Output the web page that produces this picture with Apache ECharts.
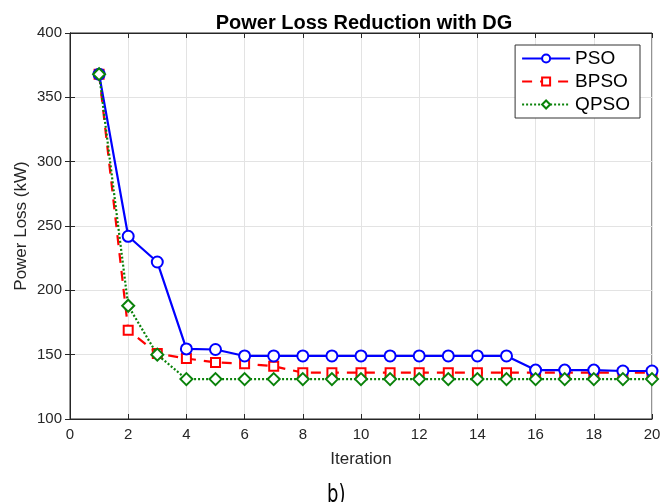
<!DOCTYPE html>
<html>
<head>
<meta charset="utf-8">
<script src="https://cdn.jsdelivr.net/npm/echarts@6/dist/echarts.min.js"></script>
<style>
  html, body { margin: 0; padding: 0; background: #fff; }
  #lossChart { width: 662px; height: 502px; }
</style>
</head>
<body>
<div id="lossChart"></div>
<script>
// iterations 1..20
const iterations = [1, 2, 3, 4, 5, 6, 7, 8, 9, 10, 11, 12, 13, 14, 15, 16, 17, 18, 19, 20];
const psoLoss = [368, 242, 222, 154.5, 154, 149, 149, 149, 149, 149, 149, 149, 149, 149, 149, 138, 138, 138, 137.3, 137.3];
const bpsoLoss = [368, 169, 151, 147, 144, 143, 141, 136, 136, 136, 136, 136, 136, 136, 136, 136, 136, 136, 136, 136];
const qpsoLoss = [368, 188, 150, 131, 131, 131, 131, 131, 131, 131, 131, 131, 131, 131, 131, 131, 131, 131, 131, 131];
const xTicks = [0, 2, 4, 6, 8, 10, 12, 14, 16, 18, 20];
const yTicks = [100, 150, 200, 250, 300, 350, 400];

const pairs = vals => iterations.map((it, i) => [it, vals[i]]);
const font = 'Liberation Sans, Arial, sans-serif';

const chart = echarts.init(document.getElementById('lossChart'));

const baseX = {
  type: 'value',
  min: xTicks[0],
  max: xTicks[xTicks.length - 1],
  interval: 2,
  axisLine: { lineStyle: { color: '#262626', width: 1 } },
  axisTick: { inside: true, length: 5, lineStyle: { color: '#262626' } },
};
const baseY = {
  type: 'value',
  min: yTicks[0],
  max: yTicks[yTicks.length - 1],
  interval: 50,
  axisLine: { lineStyle: { color: '#262626', width: 1 } },
  axisTick: { inside: true, length: 5, lineStyle: { color: '#262626' } },
};

chart.setOption({
  animation: false,
  textStyle: { fontFamily: font },
  title: {
    text: 'Power Loss Reduction with DG',
    left: 359,
    top: 8,
    textAlign: 'center',
    textStyle: { fontSize: 20, fontWeight: 'bold', color: '#000', fontFamily: font },
  },
  grid: {
    left: 70, right: 10, top: 33, bottom: 83,
    outerBoundsMode: 'none',
    show: true, borderColor: '#262626', borderWidth: 1,
  },
  legend: {
    orient: 'vertical',
    right: 22,
    top: 45,
    itemWidth: 48,
    itemHeight: 10,
    itemGap: 4,
    padding: [4, 10, 4, 6],
    borderColor: '#333',
    borderWidth: 1,
    backgroundColor: '#fff',
    textStyle: { fontSize: 19, color: '#000', fontFamily: font },
    data: ['PSO', 'BPSO', 'QPSO'],
  },
  xAxis: [
    Object.assign({}, baseX, {
      name: 'Iteration',
      nameLocation: 'middle',
      nameGap: 32,
      nameMoveOverlap: false,
      nameTextStyle: { fontSize: 17, color: '#262626' },
      axisLabel: { fontSize: 15, color: '#262626', margin: 8 },
      splitLine: { show: true, lineStyle: { color: '#e3e3e3' } },
    }),
    Object.assign({}, baseX, {
      position: 'top',
      axisLabel: { show: false },
      splitLine: { show: false },
    }),
  ],
  yAxis: [
    Object.assign({}, baseY, {
      name: 'Power Loss (kW)',
      nameLocation: 'middle',
      nameGap: 40,
      nameMoveOverlap: false,
      nameTextStyle: { fontSize: 17, color: '#262626' },
      axisLabel: { fontSize: 15, color: '#262626', margin: 8 },
      splitLine: { show: true, lineStyle: { color: '#e3e3e3' } },
    }),
    Object.assign({}, baseY, {
      position: 'right',
      axisLabel: { show: false },
      splitLine: { show: false },
    }),
  ],
  series: [
    {
      name: 'PSO',
      type: 'line',
      data: pairs(psoLoss),
      symbol: 'emptyCircle',
      symbolSize: 11,
      color: '#0000ff',
      lineStyle: { color: '#0000ff', width: 2.2 },
      itemStyle: { color: '#0000ff', borderWidth: 2 },
      z: 3,
    },
    {
      name: 'BPSO',
      type: 'line',
      data: pairs(bpsoLoss),
      symbol: 'emptyRect',
      symbolSize: 9,
      color: '#ff0000',
      lineStyle: { color: '#ff0000', width: 2.2, type: [10, 8] },
      itemStyle: { color: '#ff0000', borderWidth: 2 },
      z: 2,
    },
    {
      name: 'QPSO',
      type: 'line',
      data: pairs(qpsoLoss),
      symbol: 'emptyDiamond',
      symbolSize: 12,
      color: '#0a820a',
      lineStyle: { color: '#0a820a', width: 2.2, type: [2, 2] },
      itemStyle: { color: '#0a820a', borderWidth: 2 },
      z: 4,
    },
  ],
  graphic: [
    {
      type: 'text',
      x: 327,
      y: 483,
      scaleX: 0.72,
      style: { text: 'b)', fontSize: 25, fill: '#000', fontFamily: 'DejaVu Sans, sans-serif' },
    },
  ],
});
</script>
</body>
</html>
